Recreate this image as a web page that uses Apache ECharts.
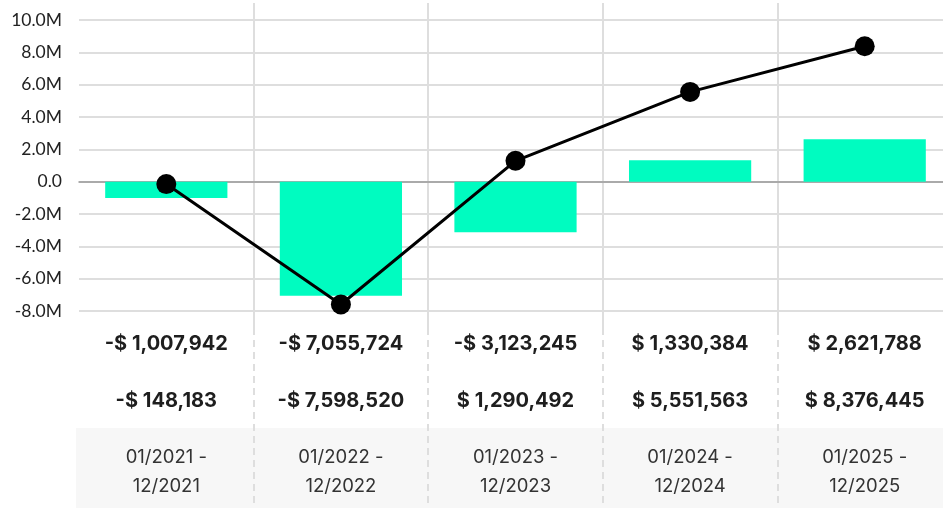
<!DOCTYPE html>
<html>
<head>
<meta charset="utf-8">
<script src="https://cdn.jsdelivr.net/npm/echarts@6/dist/echarts.min.js"></script>
<style>
  html, body { margin: 0; padding: 0; background: #fff; }
  #chart { width: 943px; height: 508px; }
</style>
</head>
<body>
<div id="chart"></div>
<script>
// periods, bar values (period result) and line values (cumulative)
const periods = ['01/2021 -\n12/2021', '01/2022 -\n12/2022', '01/2023 -\n12/2023', '01/2024 -\n12/2024', '01/2025 -\n12/2025']
const barValues = [-1007942, -7055724, -3123245, 1330384, 2621788]
const lineValues = [-148183, -7598520, 1290492, 5551563, 8376445]

const money = v => (v < 0 ? '-' : '') + '$ ' + Math.abs(v).toLocaleString('en-US')
const font = 'Inter, Lato, sans-serif'

const left = 79
const plotWidth = 873

const hiddenY = (gridIndex) => ({ type: 'value', gridIndex: gridIndex, show: false })

const rowAxis = (data, margin, style) => ({
    type: 'category',
    gridIndex: 0,
    position: 'bottom',
    data: data,
    axisLine: { show: false, onZero: false },
    axisTick: { show: false },
    splitLine: { show: false },
    axisLabel: Object.assign({ interval: 0, margin: margin, verticalAlign: 'middle', fontFamily: font }, style)
})

let chart = echarts.init(document.getElementById('chart'))
chart.setOption({
    animation: false,
    graphic: [
        { type: 'rect', z: -10, shape: { x: 76, y: 428, width: 867, height: 80 }, style: { fill: '#f7f7f7' } }
    ],
    grid: [
        { left: left, top: 20, width: plotWidth, height: 291, outerBoundsMode: 'none' },
        { left: left, top: 3, width: plotWidth, height: 325, outerBoundsMode: 'none' },
        { left: left, top: 328, width: plotWidth, height: 180, outerBoundsMode: 'none' }
    ],
    xAxis: [
        {
            type: 'category',
            gridIndex: 0,
            data: periods,
            axisLine: { onZero: true, lineStyle: { color: '#999', width: 1.5 } },
            axisTick: { show: false },
            axisLabel: { show: false },
            splitLine: { show: false }
        },
        rowAxis(barValues.map(money), 33, { fontSize: 20, fontWeight: 'bold', color: '#1e1e1e' }),
        rowAxis(lineValues.map(money), 90, { fontSize: 20, fontWeight: 'bold', color: '#1e1e1e' }),
        rowAxis(periods, 160.5, { fontSize: 18.5, color: '#333', lineHeight: 29 }),
        {
            type: 'category',
            gridIndex: 1,
            data: periods,
            axisLine: { show: false },
            axisTick: { show: false },
            axisLabel: { show: false },
            splitLine: { show: true, showMinLine: false, lineStyle: { color: '#dedede', width: 2 } }
        },
        {
            type: 'category',
            gridIndex: 2,
            data: periods,
            axisLine: { show: false },
            axisTick: { show: false },
            axisLabel: { show: false },
            splitLine: { show: true, showMinLine: false, lineStyle: { color: '#dedede', width: 2, type: [7, 5] } }
        }
    ],
    yAxis: [
        {
            type: 'value',
            gridIndex: 0,
            min: -8000000,
            max: 10000000,
            interval: 2000000,
            axisLine: { show: false },
            axisTick: { show: false },
            axisLabel: {
                margin: 17,
                fontSize: 17.5,
                color: '#222',
                fontFamily: 'Lato, sans-serif',
                formatter: v => v === 0 ? '0.0' : (v / 1000000).toFixed(1) + 'M'
            },
            splitLine: { lineStyle: { color: '#dedede', width: 2 } }
        },
        hiddenY(1),
        hiddenY(2)
    ],
    series: [
        {
            name: 'Result',
            type: 'bar',
            data: barValues,
            barWidth: '70%',
            itemStyle: { color: '#00fcc0' }
        },
        {
            name: 'Cumulative',
            type: 'line',
            data: lineValues,
            symbol: 'circle',
            symbolSize: 20,
            itemStyle: { color: '#000' },
            lineStyle: { color: '#000', width: 3 },
            z: 5
        }
    ]
})
</script>
</body>
</html>
